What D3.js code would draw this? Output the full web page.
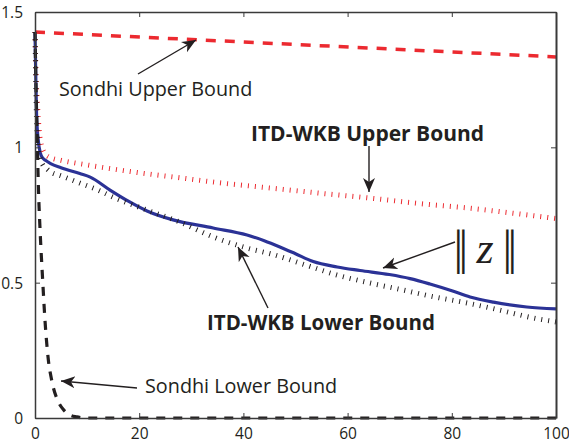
<!DOCTYPE html>
<html>
<head>
<meta charset="utf-8">
<script src="https://cdn.jsdelivr.net/npm/d3@7/dist/d3.min.js"></script>
<style>
  html, body { margin: 0; padding: 0; background: #fff; }
  svg { display: block; }
  .tick text { font-family: "Open Sans", "Noto Sans", sans-serif; font-size: 15.5px; fill: #231f20; }
  .lbl { font-family: "Open Sans", "Noto Sans", sans-serif; fill: #231f20; }
</style>
</head>
<body>
<svg id="chart" width="569" height="445"></svg>
<script>
// Tick values
const xTicks = [0, 20, 40, 60, 80, 100];
const yTicks = [0, 0.5, 1, 1.5];

// Sondhi upper bound (red dashed)
const sondhiUpperX = [0, 100];
const sondhiUpperY = [1.426, 1.334];

// ITD-WKB upper bound (red dotted)
const itdUpperX = [0, 0.2, 0.5, 1.0, 2.0, 3.0, 5, 10, 20, 28, 35, 46, 55, 64, 75, 83, 92, 100];
const itdUpperY = [1.426, 1.27, 1.15, 1.03, 0.975, 0.962, 0.952, 0.935, 0.906, 0.887, 0.87, 0.848, 0.83, 0.813, 0.79, 0.776, 0.756, 0.737];

// Norm of z (solid blue)
const normZX = [0, 0.15, 0.3, 0.6, 1.0, 1.5, 2.0, 3.0, 5, 8.6, 10.6, 14.4, 18, 21.5, 26.5, 34.2, 40.7, 44, 47.0, 50, 53.4, 58.0, 62.4, 68, 72.0, 75.8, 80, 83.5, 88, 94.4, 100];
const normZY = [1.426, 1.26, 1.12, 1.03, 0.98, 0.96, 0.952, 0.94, 0.925, 0.903, 0.89, 0.842, 0.8, 0.765, 0.732, 0.702, 0.676, 0.655, 0.632, 0.607, 0.578, 0.558, 0.545, 0.53, 0.515, 0.495, 0.47, 0.447, 0.428, 0.41, 0.403];

// ITD-WKB lower bound (black dotted)
const itdLowerX = [0, 0.15, 0.3, 0.6, 1.0, 1.5, 2.0, 3.0, 5, 8.6, 12, 15, 21.5, 27.8, 34.2, 40.7, 45.5, 52, 58, 64, 70.6, 76, 82.9, 90, 95, 100];
const itdLowerY = [1.426, 1.25, 1.1, 1.01, 0.96, 0.935, 0.925, 0.909, 0.895, 0.868, 0.843, 0.816, 0.768, 0.724, 0.669, 0.628, 0.605, 0.565, 0.528, 0.5, 0.473, 0.45, 0.425, 0.395, 0.372, 0.355];

// Sondhi lower bound (black dashed)
const sondhiLowerX = [0, 0.2, 0.44, 0.64, 0.96, 1.47, 1.92, 2.56, 3.2, 4.5, 5.5, 6.7, 8, 10, 100];
const sondhiLowerY = [1.426, 1.22, 1.02, 0.86, 0.70, 0.51, 0.36, 0.215, 0.14, 0.059, 0.03, 0.011, 0.004, 0.0, 0.0];

const svg = d3.select("#chart");
const margin = { left: 35, right: 13, top: 12, bottom: 27 };
const W = 569, H = 445;

const x = d3.scaleLinear().domain([0, 100]).range([margin.left, W - margin.right]);
const y = d3.scaleLinear().domain([0, 1.5]).range([H - margin.bottom, margin.top]);

const zip = (xs, ys) => xs.map((v, i) => [v, ys[i]]);
const line = d3.line().x(d => x(d[0])).y(d => y(d[1])).curve(d3.curveMonotoneX);

const plot = svg.append("g");
plot.append("defs").append("clipPath").attr("id", "clip")
  .append("rect")
  .attr("x", x(0) - 4).attr("y", y(1.5))
  .attr("width", x(100) - x(0) + 4).attr("height", y(0) - y(1.5) + 4);

const curves = plot.append("g").attr("clip-path", "url(#clip)");

curves.append("path")
  .attr("d", line(zip(normZX, normZY)))
  .attr("fill", "none").attr("stroke", "#2b3296").attr("stroke-width", 3.2)
  .attr("stroke-linejoin", "round");

curves.append("path")
  .attr("d", line(zip(itdUpperX, itdUpperY)))
  .attr("fill", "none").attr("stroke", "#ec2a30").attr("stroke-width", 5)
  .attr("stroke-dasharray", "1,6");

curves.append("path")
  .attr("d", line(zip(itdLowerX, itdLowerY)))
  .attr("fill", "none").attr("stroke", "#231f20").attr("stroke-width", 5)
  .attr("stroke-dasharray", "1,6");

curves.append("path")
  .attr("d", line(zip(sondhiUpperX, sondhiUpperY)))
  .attr("fill", "none").attr("stroke", "#ec2a30").attr("stroke-width", 3.5)
  .attr("stroke-dasharray", "10,9");

curves.append("path")
  .attr("d", line(zip(sondhiLowerX, sondhiLowerY)))
  .attr("fill", "none").attr("stroke", "#231f20").attr("stroke-width", 3.2)
  .attr("stroke-dasharray", "9,8");

// Axes: labelled bottom/left, tick-only top/right, all ticks pointing inward
const axisColor = "#3a3a3a";
const gB = svg.append("g").attr("transform", `translate(0,${y(0)})`)
  .call(d3.axisBottom(x).tickValues(xTicks).tickFormat(d3.format("d")).tickSizeInner(-5).tickSizeOuter(0).tickPadding(10));
const gL = svg.append("g").attr("transform", `translate(${x(0)},0)`)
  .call(d3.axisLeft(y).tickValues(yTicks).tickFormat(d => d === 0 ? "0" : d3.format("")(d)).tickSizeInner(-5).tickSizeOuter(0).tickPadding(12));
const gT = svg.append("g").attr("transform", `translate(0,${y(1.5)})`)
  .call(d3.axisTop(x).tickValues(xTicks).tickFormat("").tickSizeInner(-5).tickSizeOuter(0));
const gR = svg.append("g").attr("transform", `translate(${x(100)},0)`)
  .call(d3.axisRight(y).tickValues(yTicks).tickFormat("").tickSizeInner(-5).tickSizeOuter(0));

[gB, gL, gT, gR].forEach(g => {
  g.selectAll(".domain").attr("stroke", axisColor).attr("stroke-width", 1.5);
  g.selectAll(".tick line").attr("stroke", axisColor).attr("stroke-width", 1);
});
gR.select(".domain").attr("stroke-width", 2);
gL.selectAll(".tick text").attr("dy", "0.35em");

// Arrowhead marker
const defs = svg.append("defs");
defs.append("marker")
  .attr("id", "head").attr("viewBox", "-14 -7 16 14")
  .attr("markerWidth", 16).attr("markerHeight", 14)
  .attr("refX", 0).attr("refY", 0)
  .attr("markerUnits", "userSpaceOnUse")
  .attr("orient", "auto")
  .append("path").attr("d", "M0,0 L-14,-6 L-10,0 L-14,6 Z").attr("fill", "#231f20");

const arrows = [
  [138, 74, 196, 40],
  [369, 146, 369, 192],
  [455, 242, 383, 268],
  [268, 308, 238, 247],
  [137, 388, 61, 381]
];
svg.append("g").selectAll("line").data(arrows).join("line")
  .attr("x1", d => d[0]).attr("y1", d => d[1])
  .attr("x2", d => d[2]).attr("y2", d => d[3])
  .attr("stroke", "#231f20").attr("stroke-width", 1.4)
  .attr("marker-end", "url(#head)");

// Curve annotations
const labels = [
  { t: "Sondhi Upper Bound", x: 59, y: 96, w: "normal", s: 19.8 },
  { t: "ITD-WKB Upper Bound", x: 251, y: 141, w: "bold", s: 21 },
  { t: "ITD-WKB Lower Bound", x: 207, y: 330, w: "bold", s: 20.5 },
  { t: "Sondhi Lower Bound", x: 145, y: 393, w: "normal", s: 19.8 }
];
svg.append("g").selectAll("text").data(labels).join("text")
  .attr("class", "lbl")
  .attr("x", d => d.x).attr("y", d => d.y)
  .attr("font-size", d => d.s).attr("font-weight", d => d.w)
  .text(d => d.t);

// ||z|| label: a tight double bar on each side of an italic z
const mathFont = "'Liberation Serif', 'DejaVu Serif', serif";
const norm = svg.append("g").attr("fill", "#231f20").attr("font-family", mathFont).attr("font-size", 48);
norm.selectAll("text.bar").data([453.4, 502.4]).join("text")
  .attr("class", "bar")
  .attr("x", d => d).attr("y", 264)
  .attr("letter-spacing", -4.6)
  .text("||");
norm.append("text").attr("x", 485).attr("y", 263)
  .attr("text-anchor", "middle").attr("font-style", "italic").attr("font-size", 44)
  .text("z");
</script>
</body>
</html>
